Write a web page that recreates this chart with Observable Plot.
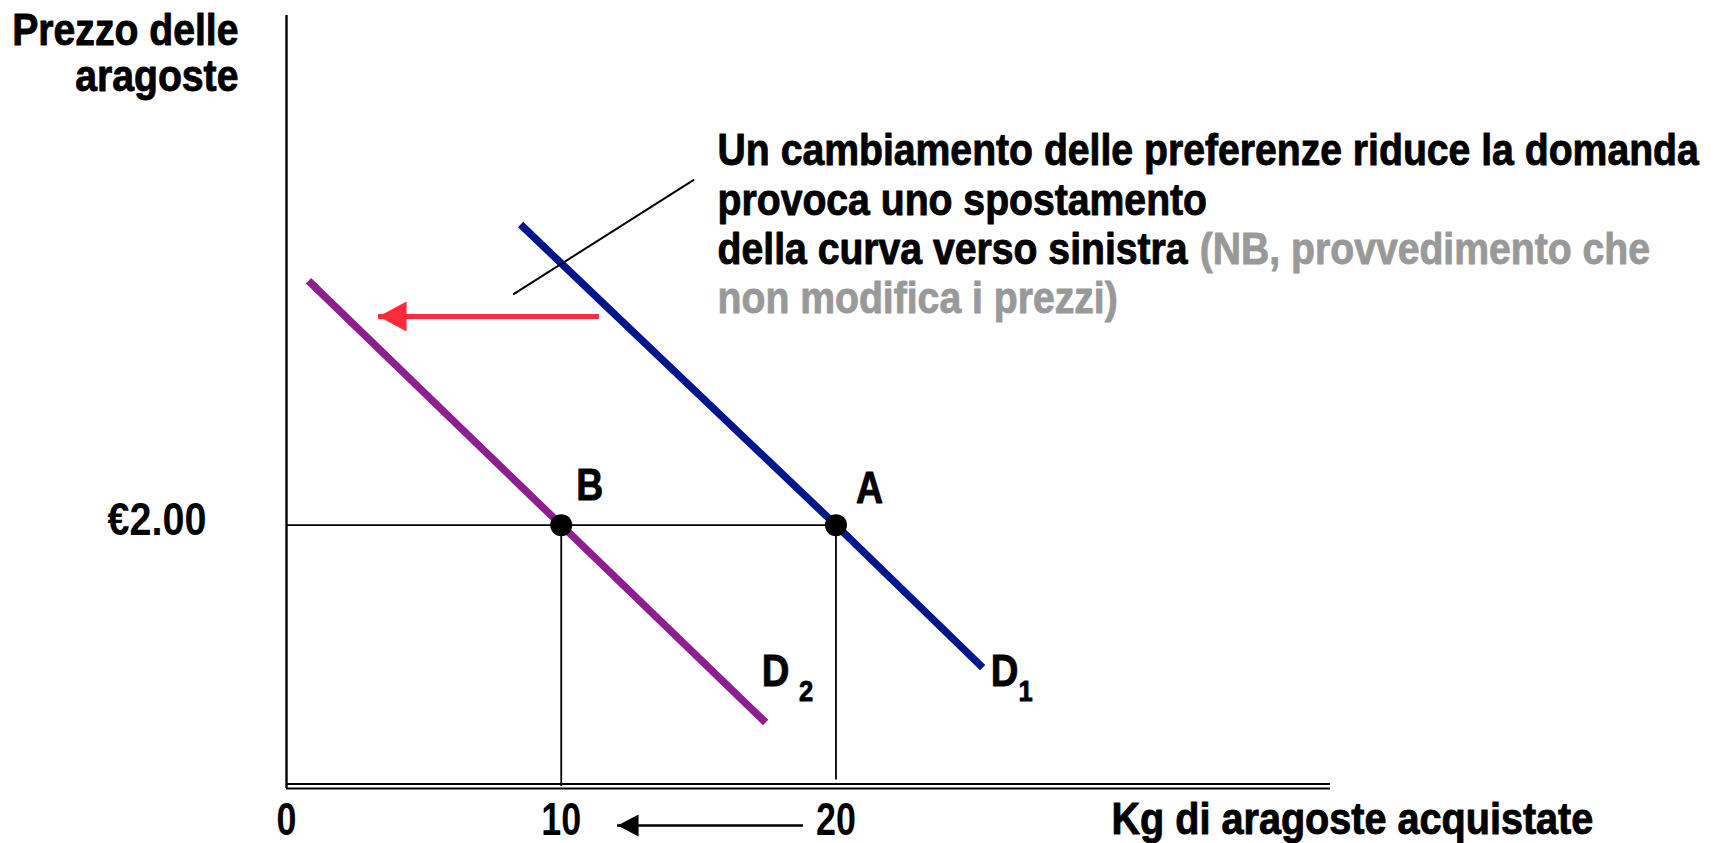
<!DOCTYPE html>
<html>
<head>
<meta charset="utf-8">
<script src="https://cdn.jsdelivr.net/npm/d3@7"></script>
<script src="https://cdn.jsdelivr.net/npm/@observablehq/plot@0.6"></script>
<style>
  html, body { margin: 0; padding: 0; background: #fff; }
  #chart svg text { font-family: "Liberation Sans Narrow", "Arial Narrow", "Liberation Sans", Arial, sans-serif; font-weight: bold; }
</style>
</head>
<body>
<div id="chart"></div>
<script>
// ---- data ----
const xTicks = [0, 10, 20];
const yTicks = [2];
const yTickLabels = ["€2.00"];
const xTitle = "Kg di aragoste acquistate";
const yTitle = "Prezzo delle\naragoste";

// demand curves (quantity q in kg, price p in €)
const demandD1 = [{q: 8.52, p: 4.30}, {q: 20, p: 2}, {q: 25.34, p: 0.91}];
const demandD2 = [{q: 0.80, p: 3.87}, {q: 10, p: 2}, {q: 17.44, p: 0.49}];

// equilibrium points
const points = [{name: "A", q: 20, p: 2}, {name: "B", q: 10, p: 2}];
const pointLabels = [{text: "A", q: 21.22, p: 2.28}, {text: "B", q: 11.04, p: 2.30}];

// curve labels (letter + subscript)
const curveLetters = [{text: "D", q: 17.80, p: 0.88}, {text: "D", q: 26.14, p: 0.88}];
const curveSubs = [{text: "2", q: 18.91, p: 0.73}, {text: "1", q: 26.90, p: 0.73}];

// annotation
const noteBlack = "Un cambiamento delle preferenze riduce la domanda\nprovoca uno spostamento\ndella curva verso sinistra";
const noteGrayA = "(NB, provvedimento che";
const noteGrayB = "non modifica i prezzi)";
const notePos = {q: 15.69, p: 4.0};
const noteGrayAPos = {q: 33.24, p: 4.0};
const noteGrayBPos = {q: 15.69, p: 3.625};
const pointerLine = [{q: 8.28, p: 3.77}, {q: 14.81, p: 4.64}];

// shift arrows
const shiftArrow = {q1: 11.39, q2: 3.35, p: 3.596};
const qtyArrow = {q1: 18.82, q2: 12.05, p: -0.298};

// axis title positions
const xTitlePos = {q: 30.03, p: -0.122};
const yTitlePos = {q: -1.75, p: 5.92};

// ---- styles ----
const navy = "#00168c";
const purple = "#8e1f8e";
const red = "#ff2b3b";
const gray = "#999999";

// horizontal condensing of each text group (the reference uses a narrow bold face)
const condense = {
  "note": 0.89, "xtitle": 0.9, "ytitle": 0.87, "ptlabel": 0.85, "dlabel": 0.85,
  "x-axis tick label": 0.78, "y-axis tick label": 0.86
};

// left-pointing filled triangle with its tip at the anchor point
function leftHead(len, half) {
  return {draw(ctx) { ctx.moveTo(0, 0); ctx.lineTo(len, -half); ctx.lineTo(len, half); ctx.closePath(); }};
}

const heavy = c => ({fill: c, stroke: c, strokeWidth: 0.9});

const chart = Plot.plot({
  width: 1726,
  height: 843,
  marginLeft: 286,
  marginRight: 396,
  marginTop: 15,
  marginBottom: 57,
  x: {domain: [0, 38], label: null},
  y: {domain: [0, 5.9], label: null},
  style: {background: "#fff", overflow: "visible"},
  marks: [
    // axes
    Plot.axisX({ticks: xTicks, label: null, tickSize: 0, tickPadding: 16, fontSize: 46, fontWeight: "bold", lineAnchor: "top", tickFormat: d => String(d), color: "#000"}),
    Plot.axisY({ticks: yTicks, label: null, tickSize: 0, tickPadding: 80, fontSize: 46, fontWeight: "bold", dy: -5, tickFormat: (d, i) => yTickLabels[i], color: "#000"}),
    Plot.ruleX([0], {y1: -0.015, y2: 5.9, stroke: "#000", strokeWidth: 2.4}),
    Plot.ruleY([0], {x1: 0, x2: 38, dy: -2.5, stroke: "#000", strokeWidth: 1.8}),
    Plot.ruleY([0], {x1: 0, x2: 38, dy: 2, stroke: "#000", strokeWidth: 2.2}),

    // reference lines
    Plot.ruleY(points.filter(d => d.name === "A"), {x1: 0, x2: "q", y: "p", stroke: "#000", strokeWidth: 1.8}),
    Plot.ruleX(points.filter(d => d.name === "B"), {x: "q", y1: 0, y2: "p", stroke: "#000", strokeWidth: 1.8}),
    Plot.ruleX(points.filter(d => d.name === "A"), {x: "q", y1: 0.05, y2: "p", stroke: "#000", strokeWidth: 1.8}),

    // demand curves
    Plot.line(demandD2, {x: "q", y: "p", stroke: purple, strokeWidth: 7.5, strokeLinecap: "butt"}),
    Plot.line(demandD1, {x: "q", y: "p", stroke: navy, strokeWidth: 7.5, strokeLinecap: "butt"}),

    // pointer line
    Plot.line(pointerLine, {x: "q", y: "p", stroke: "#000", strokeWidth: 2}),

    // red shift arrow
    Plot.ruleY([shiftArrow], {x1: "q1", x2: "q2", y: "p", stroke: red, strokeWidth: 5}),
    Plot.dot([shiftArrow], {x: "q2", y: "p", symbol: leftHead(28, 15), fill: red, stroke: null}),

    // small quantity arrow
    Plot.ruleY([qtyArrow], {x1: "q1", x2: "q2", y: "p", stroke: "#000", strokeWidth: 2.5}),
    Plot.dot([qtyArrow], {x: "q2", y: "p", symbol: leftHead(21, 11), fill: "#000", stroke: null}),

    // equilibrium points
    Plot.dot(points, {x: "q", y: "p", r: 11, fill: "#000", stroke: null}),
    Plot.text(pointLabels, {x: "q", y: "p", text: "text", fontSize: 44, ...heavy("#000"), textAnchor: "middle", lineAnchor: "middle", className: "ptlabel"}),

    // curve labels
    Plot.text(curveLetters, {x: "q", y: "p", text: "text", fontSize: 45, ...heavy("#000"), textAnchor: "middle", lineAnchor: "middle", className: "dlabel"}),
    Plot.text(curveSubs, {x: "q", y: "p", text: "text", fontSize: 30, ...heavy("#000"), textAnchor: "middle", lineAnchor: "middle", className: "dlabel"}),

    // annotation
    Plot.text([notePos], {x: "q", y: "p", text: () => noteBlack, fontSize: 44, lineHeight: 1.12, ...heavy("#000"), textAnchor: "start", lineAnchor: "bottom", className: "note"}),
    Plot.text([noteGrayAPos], {x: "q", y: "p", text: () => noteGrayA, fontSize: 44, ...heavy(gray), textAnchor: "start", lineAnchor: "bottom", className: "note"}),
    Plot.text([noteGrayBPos], {x: "q", y: "p", text: () => noteGrayB, fontSize: 44, ...heavy(gray), textAnchor: "start", lineAnchor: "bottom", className: "note"}),

    // axis titles
    Plot.text([xTitlePos], {x: "q", y: "p", text: () => xTitle, fontSize: 44, ...heavy("#000"), textAnchor: "start", lineAnchor: "top", className: "xtitle"}),
    Plot.text([yTitlePos], {x: "q", y: "p", text: () => yTitle, fontSize: 45, lineHeight: 1.02, ...heavy("#000"), textAnchor: "end", lineAnchor: "top", className: "ytitle"})
  ]
});

// apply the horizontal condensing around each text's own anchor point
chart.querySelectorAll("g").forEach(g => {
  let k = null;
  const label = g.getAttribute("aria-label");
  if (label && condense[label]) k = condense[label];
  for (const c of g.classList) if (condense[c]) k = condense[c];
  if (!k) return;
  g.querySelectorAll(":scope > text").forEach(t => {
    const tr = t.getAttribute("transform") || "";
    t.setAttribute("transform", tr + ` scale(${k},1)`);
  });
});

document.getElementById("chart").appendChild(chart);
</script>
</body>
</html>
